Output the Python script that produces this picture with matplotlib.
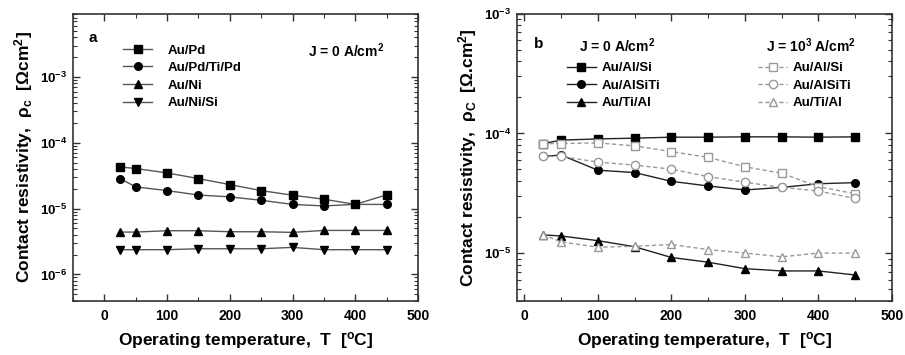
import matplotlib
matplotlib.use("Agg")
import matplotlib.pyplot as plt
from matplotlib.ticker import LogLocator, MultipleLocator, FixedLocator, FixedFormatter, NullFormatter

plt.rcParams['font.family'] = ['Liberation Sans', 'DejaVu Sans']
plt.rcParams['font.weight'] = 'bold'
plt.rcParams['mathtext.fontset'] = 'custom'
plt.rcParams['mathtext.rm'] = 'Liberation Sans:bold'
plt.rcParams['mathtext.it'] = 'Liberation Sans:bold'
plt.rcParams['mathtext.bf'] = 'Liberation Sans:bold'
plt.rcParams['mathtext.default'] = 'rm'

# temperatures (deg C)
temp = [25, 50, 100, 150, 200, 250, 300, 350, 400, 450]

# panel a, J = 0 A/cm2
au_pd = [4.3e-5, 4.07e-5, 3.49e-5, 2.86e-5, 2.32e-5, 1.88e-5, 1.6e-5, 1.39e-5, 1.16e-5, 1.62e-5]
au_pd_ti_pd = [2.86e-5, 2.14e-5, 1.88e-5, 1.61e-5, 1.51e-5, 1.34e-5, 1.16e-5, 1.1e-5, 1.16e-5, 1.16e-5]
au_ni = [4.41e-6, 4.41e-6, 4.62e-6, 4.62e-6, 4.46e-6, 4.46e-6, 4.36e-6, 4.67e-6, 4.67e-6, 4.67e-6]
au_ni_si = [2.38e-6, 2.38e-6, 2.38e-6, 2.46e-6, 2.46e-6, 2.46e-6, 2.58e-6, 2.38e-6, 2.38e-6, 2.38e-6]

# panel b, J = 0 A/cm2
au_al_si_0 = [8.23e-5, 8.79e-5, 9.01e-5, 9.13e-5, 9.31e-5, 9.31e-5, 9.37e-5, 9.37e-5, 9.31e-5, 9.37e-5]
au_alsiti_0 = [6.43e-5, 6.6e-5, 4.93e-5, 4.71e-5, 3.98e-5, 3.64e-5, 3.37e-5, 3.54e-5, 3.8e-5, 3.88e-5]
au_ti_al_0 = [1.42e-5, 1.39e-5, 1.27e-5, 1.13e-5, 9.19e-6, 8.39e-6, 7.41e-6, 7.09e-6, 7.09e-6, 6.56e-6]

# panel b, J = 10^3 A/cm2
au_al_si_3 = [8.23e-5, 8.23e-5, 8.34e-5, 7.87e-5, 7.05e-5, 6.31e-5, 5.26e-5, 4.65e-5, 3.59e-5, 3.13e-5]
au_alsiti_3 = [6.43e-5, 6.43e-5, 5.76e-5, 5.44e-5, 5.03e-5, 4.36e-5, 3.91e-5, 3.54e-5, 3.3e-5, 2.86e-5]
au_ti_al_3 = [1.43e-5, 1.24e-5, 1.12e-5, 1.14e-5, 1.18e-5, 1.07e-5, 1.0e-5, 9.31e-6, 1.0e-5, 1.0e-5]

series_a = [("Au/Pd", au_pd, "s"), ("Au/Pd/Ti/Pd", au_pd_ti_pd, "o"),
            ("Au/Ni", au_ni, "^"), ("Au/Ni/Si", au_ni_si, "v")]
series_b0 = [("Au/Al/Si", au_al_si_0, "s"), ("Au/AlSiTi", au_alsiti_0, "o"),
             ("Au/Ti/Al", au_ti_al_0, "^")]
series_b3 = [("Au/Al/Si", au_al_si_3, "s"), ("Au/AlSiTi", au_alsiti_3, "o"),
             ("Au/Ti/Al", au_ti_al_3, "^")]

fig = plt.figure(figsize=(9.05, 3.55), dpi=100)
ax1 = fig.add_axes([0.0807, 0.153, 0.3812, 0.808])
ax2 = fig.add_axes([0.5713, 0.153, 0.4143, 0.808])

dark = "#555555"
grey = "#999999"


def style_axis(ax, xlim, ylim, decades, ylabel):
    ax.set_yscale("log")
    ax.set_xlim(*xlim)
    ax.set_ylim(*ylim)
    for s in ax.spines.values():
        s.set_linewidth(1.2)
        s.set_color("#333333")
    ax.xaxis.set_major_locator(MultipleLocator(100))
    ax.xaxis.set_minor_locator(MultipleLocator(50))
    ax.yaxis.set_major_locator(FixedLocator([10.0 ** d for d in decades]))
    ax.yaxis.set_major_formatter(FixedFormatter(["10$^{%d}$" % d for d in decades]))
    ax.yaxis.set_minor_locator(LogLocator(base=10, subs=range(2, 10), numticks=20))
    ax.yaxis.set_minor_formatter(NullFormatter())
    ax.tick_params(which="both", direction="in", top=True, right=True, color="#333333")
    ax.tick_params(which="major", length=5, width=1)
    ax.tick_params(which="minor", length=3, width=0.8)
    ax.tick_params(axis="x", labelsize=10, pad=6)
    ax.tick_params(axis="y", labelsize=9.5, pad=4)
    for t in ax.get_xticklabels() + ax.get_yticklabels():
        t.set_fontweight("bold")
    ax.set_xlabel("Operating temperature,  T  [$^{\\rm o}$C]", fontsize=12.5, fontweight="bold", labelpad=5)
    ax.set_ylabel(ylabel, fontsize=12.5, fontweight="bold", labelpad=4)


leg_kw = dict(loc="upper left", frameon=False, fontsize=9.5, handlelength=2.2,
              labelspacing=0.4, borderaxespad=0)

# panel a
handles_a = []
for name, vals, m in series_a:
    h, = ax1.plot(temp, vals, color=dark, lw=1, marker=m, ms=5.5, mfc="black", mec="black", label=name)
    handles_a.append(h)
style_axis(ax1, (-50, 500), (4.0e-7, 9.1e-3), [-6, -5, -4, -3],
           "Contact resistivity,  ρ$_{\\rm c}$  [Ωcm$^2$]")
ax1.legend(handles=handles_a, bbox_to_anchor=(0.13, 0.912), handletextpad=1.2, **leg_kw)
ax1.text(0.045, 0.94, "a", transform=ax1.transAxes, fontsize=11, fontweight="bold", va="top")
ax1.text(0.68, 0.905, "J = 0 A/cm$^2$", transform=ax1.transAxes, fontsize=10, fontweight="bold", va="top")

# panel b
handles_b0 = []
for name, vals, m in series_b0:
    h, = ax2.plot(temp, vals, color="#222222", lw=1, marker=m, ms=5.5, mfc="black", mec="black", label=name)
    handles_b0.append(h)
handles_b3 = []
for name, vals, m in series_b3:
    h, = ax2.plot(temp, vals, color=grey, lw=1, ls=(0, (3, 2)), marker=m, ms=6, mfc="white",
                  mec=grey, label=name)
    handles_b3.append(h)
style_axis(ax2, (-10, 500), (4.0e-6, 1.0e-3), [-5, -4, -3],
           "Contact resistivity,  ρ$_{\\rm C}$  [Ω.cm$^2$]")
leg0 = ax2.legend(handles=handles_b0, bbox_to_anchor=(0.119, 0.85), handletextpad=0.4, **leg_kw)
ax2.add_artist(leg0)
ax2.legend(handles=handles_b3, bbox_to_anchor=(0.629, 0.85), handletextpad=0.4, **leg_kw)
ax2.text(0.045, 0.92, "b", transform=ax2.transAxes, fontsize=11, fontweight="bold", va="top")
ax2.text(0.165, 0.92, "J = 0 A/cm$^2$", transform=ax2.transAxes, fontsize=10, fontweight="bold", va="top")
ax2.text(0.665, 0.92, "J = 10$^3$ A/cm$^2$", transform=ax2.transAxes, fontsize=10, fontweight="bold", va="top")

fig.savefig("out.png", dpi=100)
